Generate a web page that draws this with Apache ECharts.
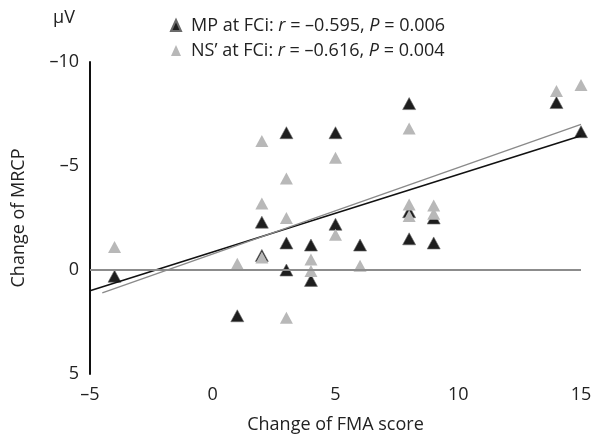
<!DOCTYPE html>
<html>
<head>
<meta charset="utf-8">
<script src="https://cdn.jsdelivr.net/npm/echarts@6/dist/echarts.min.js"></script>
<style>html,body{margin:0;padding:0;background:#fff}#c{width:595px;height:439px}</style>
</head>
<body>
<div id="c"></div>
<script>
// Data
var mpPoints = [
  [-4, 0.3], [1, 2.2], [2, -2.3], [2, -0.7], [3, -6.6], [3, -1.3], [3, 0.0],
  [4, -1.2], [4, 0.5], [5, -6.6], [5, -2.2], [6, -1.2], [8, -8.0], [8, -2.8],
  [8, -1.5], [9, -2.5], [9, -1.3], [14, -8.05], [15, -6.65]
];
var nsPoints = [
  [-4, -1.1], [1, -0.3], [2, -6.2], [2, -3.2], [2, -0.6], [3, -4.4], [3, -2.5],
  [3, 2.3], [4, -0.5], [4, 0.05], [5, -5.4], [5, -1.7], [6, -0.2], [8, -6.8],
  [8, -3.15], [8, -2.6], [9, -3.1], [9, -2.7], [14, -8.6], [15, -8.9]
];
var mpTrend = [[-5, 1.0], [15, -6.45]];
var nsTrend = [[-4.5, 1.1], [15, -7.0]];
var xTicks = [-5, 0, 5, 10, 15];
var yTicks = [-10, -5, 0, 5];
var legendNames = ['MP at FCi', "NS\u2019 at FCi"];
var legendStats = [['\u20130.595', '0.006'], ['\u20130.616', '0.004']];

var FONT = '"Open Sans", "Noto Sans", sans-serif';
function fmtNum(v) { return v < 0 ? '\u2013' + Math.abs(v) : String(v); }

var chart = echarts.init(document.getElementById('c'), null, {renderer: 'canvas'});
chart.setOption({
  animation: false,
  backgroundColor: '#fff',
  grid: {left: 90, right: 14, top: 62, bottom: 64},
  legend: {
    orient: 'vertical',
    left: 165,
    top: 10,
    itemWidth: 10,
    itemHeight: 11,
    itemGap: 4,
    data: [
      {name: legendNames[0], icon: 'triangle', itemStyle: {color: '#1e1e1e'}},
      {name: legendNames[1], icon: 'triangle', itemStyle: {color: '#b8b8b8'}}
    ],
    formatter: function (name) {
      var i = legendNames.indexOf(name);
      return '{p|' + name + ': }{i|r}{n| = ' + legendStats[i][0] + ', }{i|P}{n| = ' + legendStats[i][1] + '}';
    },
    textStyle: {
      fontFamily: FONT, fontSize: 18, color: '#222', lineHeight: 21,
      rich: {
        p: {fontFamily: FONT, fontSize: 18, color: '#222', lineHeight: 21, padding: [0, 0, 0, 5]},
        n: {fontFamily: FONT, fontSize: 18, color: '#222', lineHeight: 21},
        i: {fontFamily: FONT, fontSize: 18, color: '#222', lineHeight: 21, fontStyle: 'italic'}
      }
    }
  },
  graphic: [{
    type: 'text', left: 53, top: 9,
    style: {text: '\u03bcV', font: '18px ' + FONT, fill: '#222'}
  }],
  xAxis: {
    type: 'value', min: -5, max: 15, interval: 5,
    axisLine: {show: false}, axisTick: {show: false}, splitLine: {show: false},
    axisLabel: {fontFamily: FONT, fontSize: 18, color: '#222', margin: 12, formatter: fmtNum},
    name: 'Change of FMA score', nameLocation: 'middle', nameGap: 42,
    nameTextStyle: {fontFamily: FONT, fontSize: 18, color: '#222'}
  },
  yAxis: {
    type: 'value', min: -10, max: 5, interval: 5, inverse: true,
    axisLine: {show: true, onZero: false, lineStyle: {color: '#111', width: 2}},
    axisTick: {show: false}, splitLine: {show: false},
    axisLabel: {fontFamily: FONT, fontSize: 18, color: '#222', margin: 11, formatter: fmtNum},
    name: 'Change of MRCP', nameLocation: 'middle', nameGap: 62,
    nameTextStyle: {fontFamily: FONT, fontSize: 18, color: '#222'}
  },
  series: [
    {
      name: legendNames[0], type: 'scatter', data: mpPoints,
      symbol: 'triangle', symbolSize: [13, 12], z: 2,
      itemStyle: {color: '#1e1e1e', borderColor: '#6a6a6a', borderWidth: 0.6, opacity: 1},
      markLine: {
        silent: true, symbol: 'none', label: {show: false},
        lineStyle: {color: '#8c8c8c', width: 2, type: 'solid'},
        data: [{yAxis: 0}]
      }
    },
    {
      name: legendNames[1], type: 'scatter', data: nsPoints,
      symbol: 'triangle', symbolSize: [13, 12], z: 3,
      itemStyle: {color: '#b8b8b8', opacity: 1}
    },
    {
      name: 'mpTrend', type: 'line', data: mpTrend, showSymbol: false, symbol: 'none',
      lineStyle: {color: '#111', width: 1.6}, z: 4, silent: true
    },
    {
      name: 'nsTrend', type: 'line', data: nsTrend, showSymbol: false, symbol: 'none',
      lineStyle: {color: '#8a8a8a', width: 1.4}, z: 4, silent: true
    }
  ]
});
</script>
</body>
</html>
